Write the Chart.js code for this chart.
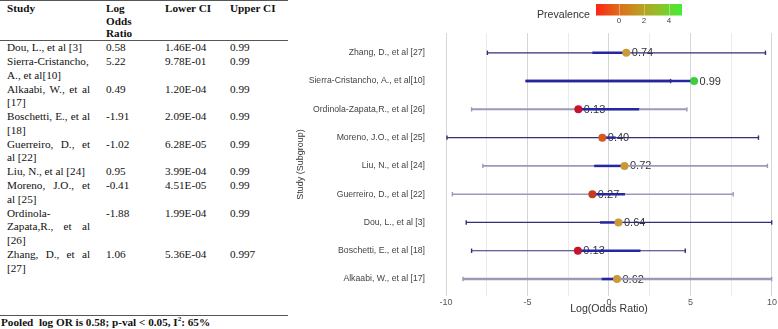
<!DOCTYPE html>
<html><head><meta charset="utf-8">
<script src="https://cdn.jsdelivr.net/npm/chart.js@4/dist/chart.umd.min.js"></script>
<style>
html,body{margin:0;padding:0;background:#fff;width:778px;height:329px;overflow:hidden;}
#tbl{position:absolute;left:0;top:0;width:288px;font-family:"Liberation Serif","Times New Roman",serif;font-size:11.2px;color:#111;}
table{border-collapse:collapse;table-layout:fixed;width:288px;border-top:1px solid #555;}
td,th{padding:0;vertical-align:top;text-align:left;box-sizing:border-box;font-size:11.2px;}
th{font-weight:bold;line-height:12.7px;padding-top:1px;border-bottom:1px solid #555;}
td{line-height:13.8px;font-weight:normal;}
.c1{padding-left:7px;padding-right:10px;text-align:justify;}
.c2,.c3,.c4{padding-left:6px;}
#pooled{position:absolute;left:0;top:315px;width:287px;border-top:1px solid #555;font-family:"Liberation Serif","Times New Roman",serif;font-weight:bold;font-size:11.2px;line-height:13px;padding-left:1px;color:#111;}
#wrap{position:absolute;left:290px;top:0;width:488px;height:329px;}
</style></head>
<body>
<div id="tbl"><table id="t">
<colgroup><col style="width:100px"><col style="width:59px"><col style="width:65px"><col style="width:64px"></colgroup>
<thead><tr><th class="c1">Study</th><th class="c2">Log<br>Odds<br>Ratio</th><th class="c3">Lower CI</th><th class="c4">Upper CI</th></tr></thead>
<tbody id="tb"></tbody></table></div>
<div id="pooled">Pooled&nbsp; log OR is 0.58; p-val &lt; 0.05, I<sup style="font-size:7px;line-height:0">2</sup>: 65%</div>
<div id="wrap"><canvas id="c" width="488" height="329"></canvas></div>
<script>
// ---- table data ----
const tableStudies = ["Dou, L., et al [3]","Sierra-Cristancho, A., et al[10]","Alkaabi, W., et al [17]","Boschetti, E., et al [18]","Guerreiro, D., et al [22]","Liu, N., et al [24]","Moreno, J.O., et al [25]","Ordinola-Zapata,R., et al [26]","Zhang, D., et al [27]"];
const tableLogOR = ["0.58","5.22","0.49","-1.91","-1.02","0.95","-0.41","-1.88","1.06"];
const tableLowerCI = ["1.46E-04","9.78E-01","1.20E-04","2.09E-04","6.28E-05","3.99E-04","4.51E-05","1.99E-04","5.36E-04"];
const tableUpperCI = ["0.99","0.99","0.99","0.99","0.99","0.99","0.99","0.99","0.997"];

// ---- forest plot data (top to bottom) ----
const plotStudies = ["Zhang, D., et al [27]","Sierra-Cristancho, A., et al[10]","Ordinola-Zapata,R., et al [26]","Moreno, J.O., et al [25]","Liu, N., et al [24]","Guerreiro, D., et al [22]","Dou, L., et al [3]","Boschetti, E., et al [18]","Alkaabi, W., et al [17]"];
const plotLogOR = [1.06, 5.22, -1.88, -0.41, 0.95, -1.02, 0.58, -1.91, 0.49];
const whiskerLow = [-7.46, -5.12, -8.43, -9.94, -7.74, -9.61, -8.76, -8.43, -8.96];
const whiskerHigh = [9.60, 3.78, 4.78, 9.17, 9.72, 7.62, 9.98, 4.68, 9.98];
const capLow = [-7.46, null, -8.43, -9.94, -7.74, -9.61, -8.76, -8.43, -8.96];
const capHigh = [9.60, 3.78, 4.78, 9.17, 9.72, 7.62, 9.98, 4.68, 9.98];
const innerLow = [-1.02, -5.12, -1.85, -0.41, -0.91, -0.99, -0.55, -1.87, -0.45];
const innerHigh = [1.04, 5.20, 1.85, 0.41, 0.98, 0.98, 0.61, 1.93, 0.50];
const prevalenceLabels = ["0.74","0.99","0.13","0.40","0.72","0.27","0.64","0.13","0.62"];
const xTicks = [-10, -5, 0, 5, 10];
const colorbarTicks = [0, 2, 4];
const colorbarRange = [-1.84, 5.04];

// ---- styles (kept separate from data) ----
const NAVY = '#303078', GRAY = '#9a9ab8', BLUE = '#2626a2';
const whiskerColors = [NAVY, NAVY, GRAY, NAVY, GRAY, GRAY, NAVY, NAVY, GRAY];
const whiskerWidths = [1.2, 2.5, 2, 1.2, 1.6, 1.6, 1.2, 1.2, 2.4];
const pointColors = ['#c89a3a','#3ccf3c','#c4142e','#d45a20','#c89a3a','#c63c22','#c89a3a','#c4142e','#c89a3a'];

// build table
const tb = document.getElementById('tb');
tableStudies.forEach((s, i) => {
  const tr = document.createElement('tr');
  [[s,'c1'],[tableLogOR[i],'c2'],[tableLowerCI[i],'c3'],[tableUpperCI[i],'c4']].forEach(([txt,cls]) => {
    const td = document.createElement('td'); td.className = cls; td.textContent = txt; tr.appendChild(td);
  });
  tb.appendChild(tr);
});

const FAM = '"Liberation Sans", Arial, sans-serif';
const datasets = [];
datasets.push({ label:'pts', data: plotLogOR.map((v,i)=>({x:v,y:i})), pointRadius:4, pointHoverRadius:4,
  pointBackgroundColor: pointColors, pointBorderWidth:0, showLine:false, clip:false });
const capData = [], capCols = [];
plotStudies.forEach((_,i)=>{
  if (capLow[i] !== null) { capData.push({x:capLow[i], y:i}); capCols.push(whiskerColors[i]); }
  if (capHigh[i] !== null) { capData.push({x:capHigh[i], y:i}); capCols.push(whiskerColors[i]); }
});
datasets.push({ label:'caps', data: capData, pointStyle:'line', rotation:90, pointRadius:2.2, pointHoverRadius:2.2,
  pointBorderColor: capCols, pointBorderWidth:1.4, showLine:false, clip:false });
plotStudies.forEach((_,i)=>{
  datasets.push({ label:'inner'+i, data:[{x:innerLow[i],y:i},{x:innerHigh[i],y:i}], showLine:true,
    borderColor: BLUE, borderWidth:2.5, pointRadius:0, clip:false });
});
plotStudies.forEach((_,i)=>{
  datasets.push({ label:'whisk'+i, data:[{x:whiskerLow[i],y:i},{x:whiskerHigh[i],y:i}], showLine:true,
    borderColor: whiskerColors[i], borderWidth: whiskerWidths[i], pointRadius:0, clip:false });
});

const labelPlugin = {
  id:'vals',
  beforeDatasetsDraw(chart){
    const c = chart.ctx, xs = chart.scales.x, ys = chart.scales.y;
    c.save();
    c.font = '11px ' + FAM; c.fillStyle = '#333'; c.textAlign = 'left'; c.textBaseline = 'middle';
    plotLogOR.forEach((v,i)=>{ c.fillText(prevalenceLabels[i], xs.getPixelForValue(v)+5.5, ys.getPixelForValue(i)+0.5); });
    c.restore();
  }
};
const colorbarPlugin = {
  id:'cbar',
  afterDraw(chart){
    const c = chart.ctx;
    const x0 = 306, x1 = 392, y0 = 4, y1 = 15.5;
    c.save();
    c.font = '10.6px ' + FAM; c.fillStyle = '#333'; c.textAlign = 'left'; c.textBaseline = 'middle';
    c.fillText('Prevalence', 247, 15);
    const g = c.createLinearGradient(x0,0,x1,0);
    g.addColorStop(0,'#ff2414'); g.addColorStop(0.27,'#dc6e1a'); g.addColorStop(0.5,'#bf9a22');
    g.addColorStop(0.75,'#8cc428'); g.addColorStop(1,'#40ee36');
    c.fillStyle = g; c.fillRect(x0,y0,x1-x0,y1-y0);
    c.font = '8px ' + FAM; c.fillStyle = '#444'; c.textAlign = 'center';
    colorbarTicks.forEach(t=>{
      const x = x0 + (t-colorbarRange[0])/(colorbarRange[1]-colorbarRange[0])*(x1-x0);
      c.strokeStyle = 'rgba(255,255,255,0.35)'; c.lineWidth = 1;
      c.beginPath(); c.moveTo(x+0.5,y0); c.lineTo(x+0.5,y1); c.stroke();
      c.fillText(String(t), x, 21);
    });
    c.restore();
  }
};

new Chart(document.getElementById('c'), {
  type:'scatter',
  data:{ datasets },
  plugins:[labelPlugin, colorbarPlugin],
  options:{
    responsive:false, animation:false, devicePixelRatio:1,
    layout:{ padding:{ left:5.3, right:5, top:33, bottom:13.6 } },
    plugins:{ legend:{display:false}, tooltip:{enabled:false} },
    scales:{
      x:{ type:'linear', min:-10, max:10,
        afterBuildTicks: s => { const t=[]; for (let v=-10; v<=10; v+=2.5) t.push({value:v}); s.ticks = t; },
        ticks:{ autoSkip:false, maxRotation:0, padding:1, color:'#555', font:{family:FAM,size:9},
          callback: v => xTicks.includes(v) ? String(v) : '' },
        grid:{ drawTicks:false, color: ctx => (ctx.tick && xTicks.includes(ctx.tick.value)) ? '#d6d6d6' : '#ebebeb', lineWidth:1 },
        border:{ display:false },
        title:{ display:true, text:'Log(Odds Ratio)', color:'#333', font:{family:FAM,size:10.6}, padding:0 },
        afterFit: s => { s.height = 19.4; }
      },
      y:{ type:'linear', reverse:true, min:-0.7, max:8.6,
        afterBuildTicks: s => { s.ticks = plotStudies.map((_,i)=>({value:i})); },
        ticks:{ autoSkip:false, padding:21, color:'#444', font:{family:FAM,size:8.7}, callback: v => plotStudies[v] },
        grid:{ display:false, drawTicks:false },
        border:{ display:false },
        title:{ display:true, text:'Study (Subgroup)', color:'#333', font:{family:FAM,size:9}, padding:0 },
        afterFit: s => { s.width = 150.7; }
      }
    }
  }
});
</script>
</body></html>
